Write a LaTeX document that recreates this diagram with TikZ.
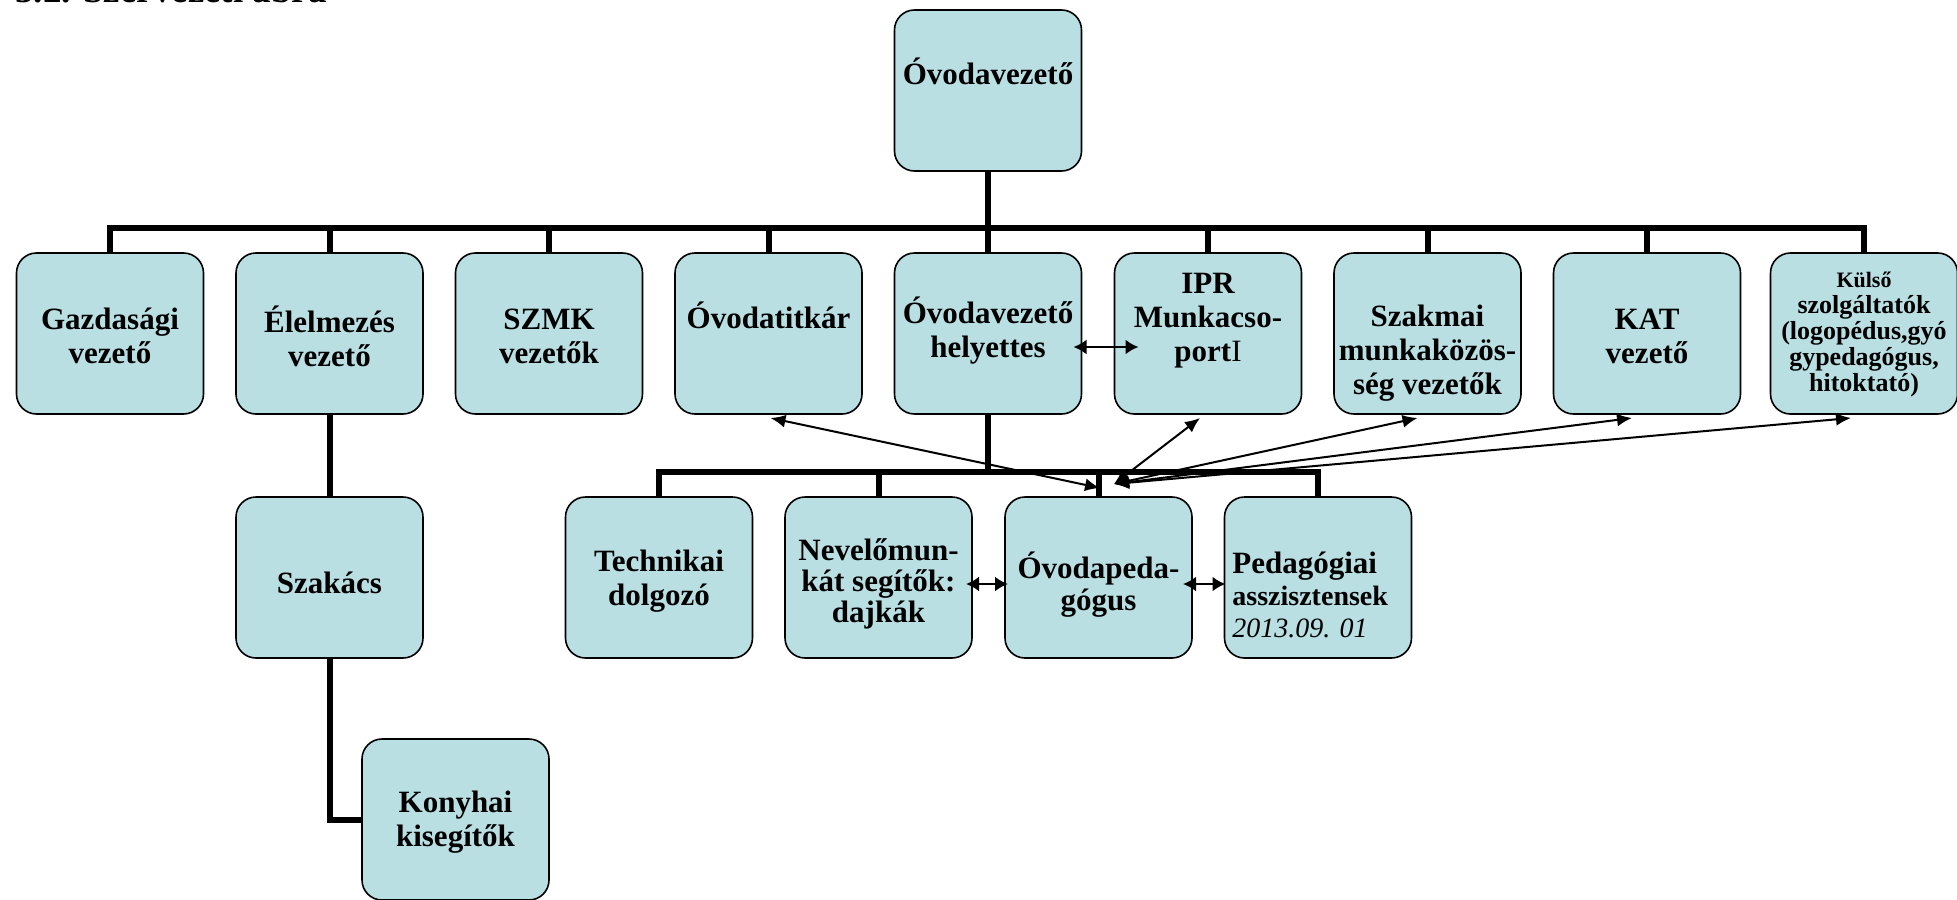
\documentclass[tikz,border=0pt]{standalone}
\usepackage{fontspec}
\setmainfont{Liberation Serif}
\usetikzlibrary{arrows.meta,backgrounds}
\definecolor{boxfill}{RGB}{185,223,227}
\begin{document}
\begin{tikzpicture}[x=0.5pt,y=-0.5pt,
  box/.style={draw=black, line width=0.8pt, fill=boxfill, rounded corners=10pt,
    minimum width=93.5pt, minimum height=80.5pt, inner sep=0pt, outer sep=0pt},
  lbl/.style={font=\bfseries\fontsize{15.5}{17}\selectfont, align=center, inner sep=0pt},
  conn/.style={line width=3pt, line join=miter},
  rel/.style={line width=1pt, {Latex[length=7.5pt,width=6.5pt]}-{Latex[length=7.5pt,width=6.5pt]}},
  relh/.style={line width=1.2pt, {Latex[length=6.5pt,width=7.5pt]}-{Latex[length=6.5pt,width=7.5pt]}}
]
\clip (0,0) rectangle (1957,899);
\node[anchor=base west, font=\bfseries\fontsize{18.5}{20}\selectfont, inner sep=0pt] (title) at (15,3) {3.2. Szervezeti ábra};

% boxes
\node[box] (vez) at (988,90.5) {};
\node[box] (gazd) at (110,333.5) {};
\node[box] (elel) at (329.5,333.5) {};
\node[box] (szmk) at (549,333.5) {};
\node[box] (titk) at (768.5,333.5) {};
\node[box] (hely) at (988,333.5) {};
\node[box] (ipr) at (1208,333.5) {};
\node[box] (szak) at (1427.5,333.5) {};
\node[box] (kat) at (1647,333.5) {};
\node[box] (kuls) at (1864,333.5) {};
\node[box] (szakacs) at (329.5,577.5) {};
\node[box] (tech) at (659,577.5) {};
\node[box] (nev) at (878.5,577.5) {};
\node[box] (ovped) at (1098.5,577.5) {};
\node[box] (pedas) at (1318,577.5) {};
\node[box] (kony) at (455.5,819.5) {};

% texts
\node[lbl] (t-vez) at (988,71) {Óvodavezető};
\node[lbl] (t-gazd) at (110,336) {Gazdasági\\vezető};
\node[lbl] (t-elel) at (329.5,336) {Élelmezés\\vezető};
\node[lbl] (t-szmk) at (549,336) {SZMK\\vezetők};
\node[lbl] (t-titk) at (768.5,315) {Óvodatitkár};
\node[lbl] (t-hely) at (988,331) {Óvodavezető\\helyettes};
\node[lbl] (t-ipr) at (1208,321) {IPR\\Munkacso-\\port{\mdseries I}};
\node[lbl] (t-szak) at (1427.5,353) {Szakmai\\munkaközös-\\ség vezetők};
\node[lbl] (t-kat) at (1647,336) {KAT\\vezető};
\node[lbl, font=\bfseries\fontsize{13}{13}\selectfont] (t-kuls) at (1864,335)
  {{\fontsize{11}{13}\selectfont Külső}\\szolgáltatók\\(logopédus,gyó\\gypedagógus,\\hitoktató)};
\node[lbl] (t-szakacs) at (329.5,583) {Szakács};
\node[lbl] (t-tech) at (659,581) {Technikai\\dolgozó};
\node[lbl, font=\bfseries\fontsize{15.5}{15.5}\selectfont] (t-nev) at (878.5,584) {Nevelőmun-\\kát segítők:\\dajkák};
\node[lbl, font=\bfseries\fontsize{15.5}{16}\selectfont] (t-ovped) at (1098.5,585) {Óvodapeda-\\gógus};
\node[lbl, align=left, anchor=west, font=\bfseries\fontsize{15.5}{16}\selectfont] (t-pedas) at (1232,595)
  {Pedagógiai\\{\fontsize{14}{16}\selectfont asszisztensek}\\{\fontsize{14}{16}\selectfont\mdseries\itshape 2013.09. 01}};
\node[lbl] (t-kony) at (455.5,822) {Konyhai\\kisegítők};

% coordinates
\coordinate (bar) at (0,228);
\coordinate (bar2) at (0,472);
\coordinate (hrow) at (0,347);
\coordinate (lrow) at (0,584);
\coordinate (hubA) at (1100,488);
\coordinate (hubB) at (1114,484);

\begin{scope}[on background layer]
\draw[conn] (vez.south) -- (hely.north);
\draw[conn] (gazd.north) -- (gazd.north |- bar) -- (kuls.north |- bar) -- (kuls.north);
\foreach \n in {elel,szmk,titk,ipr,szak,kat}
  \draw[conn] (\n.north) -- (\n.north |- bar);
\draw[conn] (elel.south) -- (szakacs.north);
\draw[conn] (szakacs.south) |- (kony.west);
\draw[conn] (hely.south) -- (hely.south |- bar2);
\draw[conn] (tech.north) -- (tech.north |- bar2) -- (pedas.north |- bar2) -- (pedas.north);
\foreach \n in {nev,ovped}
  \draw[conn] (\n.north) -- (\n.north |- bar2);
\end{scope}

% relation arrows
\draw[rel] ([xshift=1pt,yshift=-2pt]titk.south) -- (hubA);
\draw[rel] ([xshift=-4pt,yshift=-2pt]ipr.south) -- (hubB);
\draw[rel] ([xshift=-5pt,yshift=-2pt]szak.south) -- (hubB);
\draw[rel] ([xshift=-7.5pt,yshift=-2pt]kat.south) -- (hubB);
\draw[rel] ([xshift=-6.5pt,yshift=-2pt]kuls.south) -- (hubB);
\draw[relh] ([xshift=-4pt]hely.east |- hrow) -- ([xshift=12pt]ipr.west |- hrow);
\draw[relh] ([xshift=-3pt]nev.east |- lrow) -- ([xshift=1.5pt]ovped.west |- lrow);
\draw[relh] ([xshift=-4.5pt]ovped.east |- lrow) -- ([xshift=0.5pt]pedas.west |- lrow);
\end{tikzpicture}
\end{document}
